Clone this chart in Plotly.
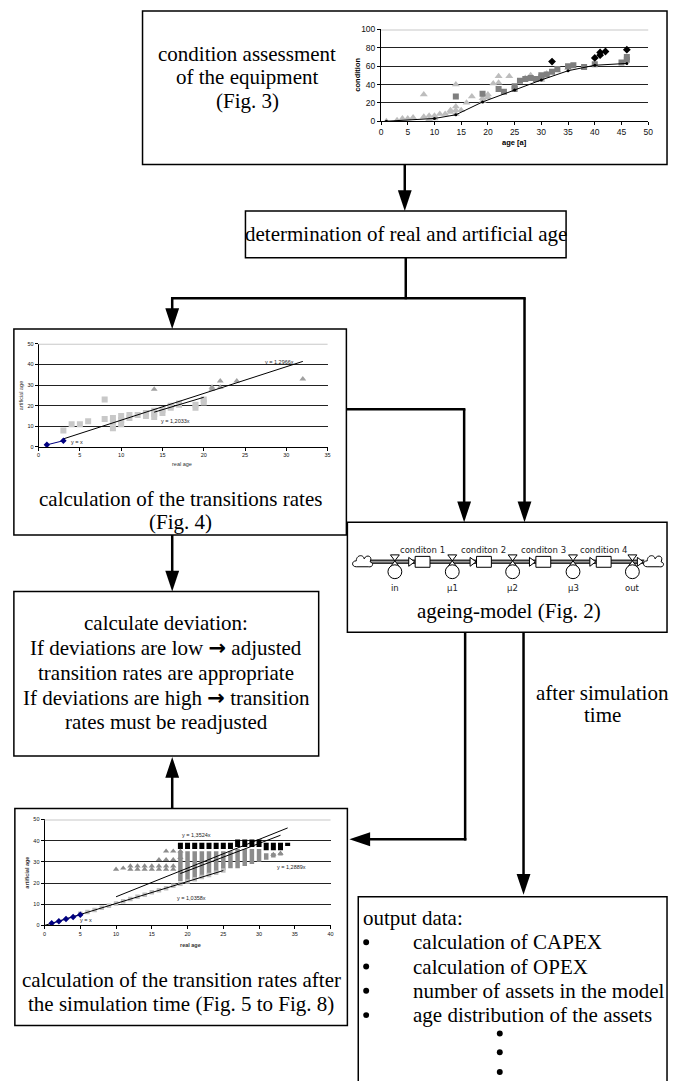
import plotly.graph_objects as go

W, H = 674, 1086

# ---------------- data: Fig. 3 (condition vs age) ----------------
cond_tri_age = [1, 3, 4, 5, 6, 8, 8, 9, 9, 10, 10, 11, 12, 13, 13, 14, 14, 14, 14, 15, 16, 17, 19, 19, 20, 20,
                21, 22, 22, 24, 27, 28, 30, 31, 33, 35]
cond_tri_val = [0, 1, 3, 3, 4, 29, 5, 6, 2, 6, 3, 8, 8, 10, 12, 40, 16, 12, 8, 12, 20, 27, 25, 22, 29, 26,
                41, 49, 42, 49, 47, 50, 45, 52, 55, 58]
cond_sq_age = [14, 19, 22, 23, 25, 25, 26, 27, 28, 29, 30, 30, 31, 32, 33, 35, 36, 38, 40, 45, 46, 46]
cond_sq_val = [27, 30, 35, 32, 38, 35, 44, 46, 47, 46, 48, 50, 51, 54, 57, 60, 61, 59, 62, 64, 67, 70]
cond_dia_age = [32, 40, 41, 41, 42, 46]
cond_dia_val = [65, 69, 72, 75, 76, 78]
cond_fit_age = [1, 10, 14, 19, 25, 30, 35, 40, 46]
cond_fit_val = [0, 3, 7, 21, 34, 45, 55, 61, 63]

# ---------------- data: Fig. 4 (artificial vs real age) ----------------
f4_sq_real = [3, 4, 5, 6, 8, 8, 9, 9, 9, 10, 10, 10, 11, 11, 12, 13, 13, 14, 14, 14, 15, 15, 16, 16, 17, 17, 19, 19, 20, 20]
f4_sq_art = [8, 11, 11, 12.5, 23, 13.5, 9, 12, 14, 11, 13, 15, 14, 15.5, 15.5, 15, 16.5, 14.5, 16, 17.5, 16.5, 18,
             19, 20, 20.5, 21, 19, 20.5, 21.5, 23]
f4_tri_real = [14, 21, 21, 22, 22, 24, 32]
f4_tri_art = [28, 28, 29, 32, 29, 32, 33]
f4_blue_real = [1, 3]
f4_blue_art = [1, 3]
f4_trend_slope = [1.2966, 1.2033]
f4_trend_from = [3, 14]
f4_trend_to = [32, 20]
f4_trend_label = ["y = 1,2966x", "y = 1,2033x", "y = x"]

# ---------------- data: Fig. 5-8 (after simulation) ----------------
f5_blue_real = [1, 2, 3, 4, 5]
f5_blue_art = [1, 2, 3, 4, 5]
f5_sq_real = [5, 6, 7, 8, 9, 10, 11, 12, 13, 14, 15, 16, 17, 18, 19, 20, 21, 22, 23, 24, 25]
f5_sq_art = [5.5, 6.3, 7.3, 8.3, 9.3, 10.4, 11.4, 12.5, 13.5, 14.5, 15.6, 16.6, 17.6, 18.7, 19.7, 20.7, 21.8,
             22.8, 23.8, 24.9, 25.9]
f5_col_real = [19, 20, 21, 22, 23, 24, 25, 26, 27, 28, 29, 30, 31, 32, 33]
f5_gray_lo = [21, 21, 22, 23, 24, 25, 26, 27, 27, 28, 29, 30, 31, 32, 33]
f5_gray_hi = [35, 35, 35, 35, 35, 35, 35, 35, 36, 36, 36, 36, 34, 34, 34]
f5_blk_real = [19, 20, 21, 22, 23, 24, 25, 26, 27, 28, 29, 30, 31, 32, 33, 34]
f5_blk_lo = [36, 36, 36, 36, 36, 36, 36, 36, 37, 37, 37, 37, 35.5, 35.5, 35.5, 37.5]
f5_blk_hi = [39, 39, 39, 39, 39, 39, 39, 39, 40.5, 40.5, 40.5, 40.5, 39, 39, 39, 39]
f5_tri_real = [10, 11, 12, 12, 13, 13, 14, 14, 15, 15, 16, 16, 16, 17, 17, 17, 17, 18, 18, 18, 18, 19, 19, 32, 33]
f5_tri_art = [26.5, 27, 26.5, 28, 26.5, 28, 26.5, 28, 26.5, 28, 26.5, 28, 31, 26.5, 28, 31, 35, 26.5, 28, 31, 35,
              32, 35, 33.5, 34]
f5_trend_slope = [1.3524, 1.2889, 1.0358]
f5_trend_from = [10, 19, 0]
f5_trend_to = [34, 33, 25]
f5_trend_label = ["y = 1,3524x", "y = 1,2889x", "y = 1,0358x", "y = x"]

# ---------------- ageing model labels ----------------
stock_labels = ["conditon 1", "conditon 2", "conditon 3", "condition 4"]
flow_labels = ["in", "\u03bc1", "\u03bc2", "\u03bc3", "out"]

output_items = ["calculation of CAPEX", "calculation of OPEX", "number of assets in the model",
                "age distribution of the assets"]

SERIF = "Liberation Serif"
SANS = "Liberation Sans"
ARROW = '<span style="font-family:DejaVu Sans;font-weight:bold">\u2192</span>'

fig = go.Figure()

# main canvas (pixel coordinates)
fig.add_trace(go.Scatter(x=[0], y=[0], mode="markers", marker=dict(opacity=0), hoverinfo="skip",
                         showlegend=False, xaxis="x", yaxis="y"))


def dx(a, b):
    return [a / W, b / W]


def dy(top, bottom):
    return [1 - bottom / H, 1 - top / H]


layout = dict(
    width=W, height=H, margin=dict(l=0, r=0, t=0, b=0), showlegend=False,
    paper_bgcolor="white", plot_bgcolor="rgba(0,0,0,0)",
    xaxis=dict(domain=[0, 1], range=[0, W], visible=False, fixedrange=True),
    yaxis=dict(domain=[0, 1], range=[H, 0], visible=False, fixedrange=True),
)


def small_axes(n, xdom, ydom, xr, yr, xdt, ydt, fs):
    tf = dict(family=SANS, size=fs, color="#111")
    layout["xaxis%d" % n] = dict(domain=xdom, range=xr, dtick=xdt, tick0=0, anchor="y%d" % n,
                                 showline=True, linecolor="black", linewidth=1, ticks="outside",
                                 ticklen=3, tickcolor="black", tickfont=tf, showgrid=False,
                                 zeroline=False, fixedrange=True)
    layout["yaxis%d" % n] = dict(domain=ydom, range=yr, dtick=ydt, tick0=0, anchor="x%d" % n,
                                 showline=True, linecolor="black", linewidth=1, ticks="outside",
                                 ticklen=3, tickcolor="black", tickfont=tf, showgrid=True,
                                 gridcolor="#222", gridwidth=1, zeroline=False, fixedrange=True)


small_axes(2, dx(383, 653), dy(24.7, 117.3), [0, 50], [0, 100], 5, 20, 8.5)
small_axes(3, dx(37, 329), dy(342, 446), [0, 35], [0, 50], 5, 10, 5.5)
small_axes(4, dx(43, 332), dy(822, 929), [0, 40], [0, 50], 5, 10, 5.5)


def sc(x, y, ax, **kw):
    fig.add_trace(go.Scatter(x=x, y=y, xaxis="x%d" % ax, yaxis="y%d" % ax, hoverinfo="skip",
                             showlegend=False, **kw))


# ---- Fig 3 traces
sc(cond_tri_age, cond_tri_val, 2, mode="markers",
   marker=dict(symbol="triangle-up", size=7, color="#bdbdbd"))
sc(cond_sq_age, cond_sq_val, 2, mode="markers", marker=dict(symbol="square", size=6, color="#7f7f7f"))
sc(cond_dia_age, cond_dia_val, 2, mode="markers", marker=dict(symbol="diamond", size=6, color="black"))
sc(cond_fit_age, cond_fit_val, 2, mode="lines+markers", line=dict(color="black", width=1),
   marker=dict(size=3, color="black"))

# ---- Fig 4 traces
sc(f4_sq_real, f4_sq_art, 3, mode="markers", marker=dict(symbol="square", size=6, color="#c8c8c8"))
sc(f4_tri_real, f4_tri_art, 3, mode="markers", marker=dict(symbol="triangle-up", size=6, color="#a0a0a0"))
for s, a, b in zip(f4_trend_slope, f4_trend_from, f4_trend_to):
    sc([a, b], [s * a, s * b], 3, mode="lines", line=dict(color="black", width=1))
sc(f4_blue_real, f4_blue_art, 3, mode="lines+markers", line=dict(color="#000080", width=1),
   marker=dict(symbol="diamond", size=5, color="#000080"))

# ---- Fig 5 traces
gx, gy = [], []
for x, lo, hi in zip(f5_col_real, f5_gray_lo, f5_gray_hi):
    gx += [x, x, None]
    gy += [lo, hi, None]
sc(gx, gy, 4, mode="lines", line=dict(color="#8c8c8c", width=4.5))
bx, by = [], []
for x, lo, hi in zip(f5_blk_real, f5_blk_lo, f5_blk_hi):
    bx += [x, x, None]
    by += [lo, hi, None]
sc(bx, by, 4, mode="lines", line=dict(color="black", width=5))
sc(f5_tri_real, f5_tri_art, 4, mode="markers", marker=dict(symbol="triangle-up", size=5.5, color="#8c8c8c"))
sc(f5_sq_real, f5_sq_art, 4, mode="markers", marker=dict(symbol="square", size=4.5, color="#c0c0c0"))
for s, a, b in zip(f5_trend_slope, f5_trend_from, f5_trend_to):
    sc([a, b], [s * a, s * b], 4, mode="lines", line=dict(color="black", width=1))
sc(f5_blue_real, f5_blue_art, 4, mode="lines+markers", line=dict(color="#000080", width=1),
   marker=dict(symbol="diamond", size=5, color="#000080"))

shapes = []
ann = []

# light top gridlines
for n, v in [(2, 100), (3, 50), (4, 50)]:
    shapes.append(dict(type="line", xref="x%d domain" % n, yref="y%d" % n, x0=0, x1=1, y0=v, y1=v,
                       line=dict(color="#c8c8c8", width=2)))


def line(x0, y0, x1, y1, w=2.5, c="black"):
    shapes.append(dict(type="line", xref="x", yref="y", x0=x0, y0=y0, x1=x1, y1=y1,
                       line=dict(color=c, width=w)))


def rect(x0, y0, x1, y1, w=1.5, fill="rgba(0,0,0,0)"):
    shapes.append(dict(type="rect", xref="x", yref="y", x0=x0, y0=y0, x1=x1, y1=y1,
                       line=dict(color="black", width=w), fillcolor=fill))


def path(d, fill="black", w=0, c="black"):
    shapes.append(dict(type="path", xref="x", yref="y", path=d, fillcolor=fill,
                       line=dict(color=c, width=w)))


def head(x, y, d, L=21, hw=7):
    if d == "down":
        p = "M %g,%g L %g,%g L %g,%g Z" % (x - hw, y - L, x + hw, y - L, x, y)
    elif d == "up":
        p = "M %g,%g L %g,%g L %g,%g Z" % (x - hw, y + L, x + hw, y + L, x, y)
    else:
        p = "M %g,%g L %g,%g L %g,%g Z" % (x + L, y - hw, x + L, y + hw, x, y)
    path(p)


def txt(x, y, s, size=21, xa="center", fam=SERIF, color="black", ref=("x", "y"), angle=0):
    ann.append(dict(x=x, y=y, xref=ref[0], yref=ref[1], text=s, showarrow=False, xanchor=xa,
                    yanchor="middle", textangle=angle, font=dict(family=fam, size=size, color=color)))


# ---- boxes
rect(142, 6, 672, 161)
rect(246, 208, 570, 255)
rect(12, 327, 348, 535)
rect(349, 522, 672, 633)
rect(12, 592, 320, 758)
rect(13, 811, 349, 1030)
rect(360, 900, 672, 1095)

# ---- connectors
line(407, 161, 407, 192); head(407, 208, "down")
line(408, 255, 408, 297)
line(170.75, 296, 529.25, 296)
line(172, 296, 172, 312); head(172, 327, "down")
line(528, 296, 528, 507); head(528, 522, "down")
line(348, 408, 468.25, 408)
line(467, 408, 467, 507); head(467, 522, "down")
line(172, 535, 172, 577); head(172, 592, "down")
line(172, 811, 172, 774); head(172, 759, "up")
line(468, 633, 468, 843.25)
line(469.25, 842, 368, 842); head(351, 842, "left")
line(527, 633, 527, 883); head(527, 898, "down")

# ---- text
txt(248, 49, "condition assessment")
txt(248, 73, "of the equipment")
txt(248, 97, "(Fig. 3)")
txt(408, 231, "determination of real and artificial age")
txt(180, 499, "calculation of the transitions rates")
txt(180, 522, "(Fig. 4)")
for i, s in enumerate(["calculate deviation:", "If deviations are low " + ARROW + " adjusted",
                       "transition rates are appropriate", "If deviations are high " + ARROW + " transition",
                       "rates must be readjusted"]):
    txt(166, 624 + 25 * i, s)
txt(181, 984, "calculation of the transition rates after")
txt(181, 1008, "the simulation time (Fig. 5 to Fig. 8)")
txt(512, 612, "ageing-model (Fig. 2)")
txt(607, 694, "after simulation")
txt(607, 717, "time")
txt(363, 921, "output data:", xa="left")
for i, s in enumerate(output_items):
    yy = 946 + 24.5 * i
    txt(413, yy, s, xa="left")
    shapes.append(dict(type="circle", xref="x", yref="y", x0=365, x1=371, y0=yy - 3, y1=yy + 3,
                       fillcolor="black", line=dict(color="black", width=0)))
for yy in [1038, 1057, 1077]:
    shapes.append(dict(type="circle", xref="x", yref="y", x0=500, x1=506, y0=yy - 3, y1=yy + 3,
                       fillcolor="black", line=dict(color="black", width=0)))

# ---- chart axis titles / labels
txt(359, 70, "<b>condition</b>", size=7.5, fam=SANS, angle=-90)
txt(518, 139, "<b>age [a]</b>", size=7.5, fam=SANS)
txt(20, 394, "artificial age", size=5.5, fam=SANS, angle=-90, color="#333")
txt(182, 463, "real age", size=5.5, fam=SANS, color="#333")
txt(25, 876, "<b>artificial age</b>", size=5.5, fam=SANS, angle=-90, color="#333")
txt(190, 949, "<b>real age</b>", size=5.5, fam=SANS, color="#333")
txt(29.2, 41.2, f4_trend_label[0], size=5.5, fam=SANS, ref=("x3", "y3"), color="#222")
txt(16.6, 12.4, f4_trend_label[1], size=5.5, fam=SANS, ref=("x3", "y3"), color="#222")
txt(4.7, 2.2, f4_trend_label[2], size=5.5, fam=SANS, ref=("x3", "y3"), color="#222")
txt(21.3, 42.8, f5_trend_label[0], size=5.5, fam=SANS, ref=("x4", "y4"), color="#222")
txt(34.6, 27.6, f5_trend_label[1], size=5.5, fam=SANS, ref=("x4", "y4"), color="#222")
txt(20.6, 12.8, f5_trend_label[2], size=5.5, fam=SANS, ref=("x4", "y4"), color="#222")
txt(5.8, 2.8, f5_trend_label[3], size=5.5, fam=SANS, ref=("x4", "y4"), color="#222")

# ---- ageing model diagram
PY = 562
cloud_x = [364, 658]
valve_x = [397, 455, 516, 577, 637]
stock_x = [425, 487, 547, 608]


def cloud(cx, cy):
    d = ("M %g,%g C %g,%g %g,%g %g,%g C %g,%g %g,%g %g,%g C %g,%g %g,%g %g,%g "
         "C %g,%g %g,%g %g,%g Z") % (
        cx - 6, cy + 5,
        cx - 11, cy + 5, cx - 11, cy - 1, cx - 6, cy - 1,
        cx - 6, cy - 7, cx + 1, cy - 8, cx + 2, cy - 3,
        cx + 4, cy - 8, cx + 11, cy - 6, cx + 8, cy,
        cx + 12, cy + 1, cx + 11, cy + 6, cx + 6, cy + 5)
    path(d, fill="white", w=1, c="black")


line(cloud_x[0] + 8, PY, cloud_x[1] - 9, PY, w=4.5, c="#333")
line(cloud_x[0] + 8, PY, cloud_x[1] - 9, PY, w=1.5, c="#9a9a9a")
for cx in cloud_x:
    cloud(cx, PY)
for sx in stock_x:
    path("M %g,%g L %g,%g L %g,%g Z" % (sx - 14, PY - 4.5, sx - 14, PY + 4.5, sx - 8, PY),
         fill="white", w=1, c="black")
    rect(sx - 7.5, PY - 5.5, sx + 7.5, PY + 5.5, w=1, fill="white")
path("M %g,%g L %g,%g L %g,%g Z" % (cloud_x[1] - 16, PY - 4.5, cloud_x[1] - 16, PY + 4.5, cloud_x[1] - 10, PY),
     fill="white", w=1, c="black")
for vx in valve_x:
    path("M %g,%g L %g,%g L %g,%g L %g,%g Z" % (vx - 4.5, PY - 7, vx + 4.5, PY - 7, vx - 4.5, PY + 5,
                                                vx + 4.5, PY + 5), fill="white", w=1, c="black")
    shapes.append(dict(type="circle", xref="x", yref="y", x0=vx - 7, x1=vx + 7, y0=PY + 3, y1=PY + 17,
                       fillcolor="white", line=dict(color="black", width=1)))
for sx, s in zip(stock_x, stock_labels):
    txt(sx, PY - 12, s, size=8.5, fam="DejaVu Sans", color="#222")
for vx, s in zip(valve_x, flow_labels):
    txt(vx, PY + 26, s, size=8.5, fam="DejaVu Sans", color="#222")

layout["shapes"] = shapes
layout["annotations"] = ann
fig.update_layout(**layout)
fig.write_html("out.html")
